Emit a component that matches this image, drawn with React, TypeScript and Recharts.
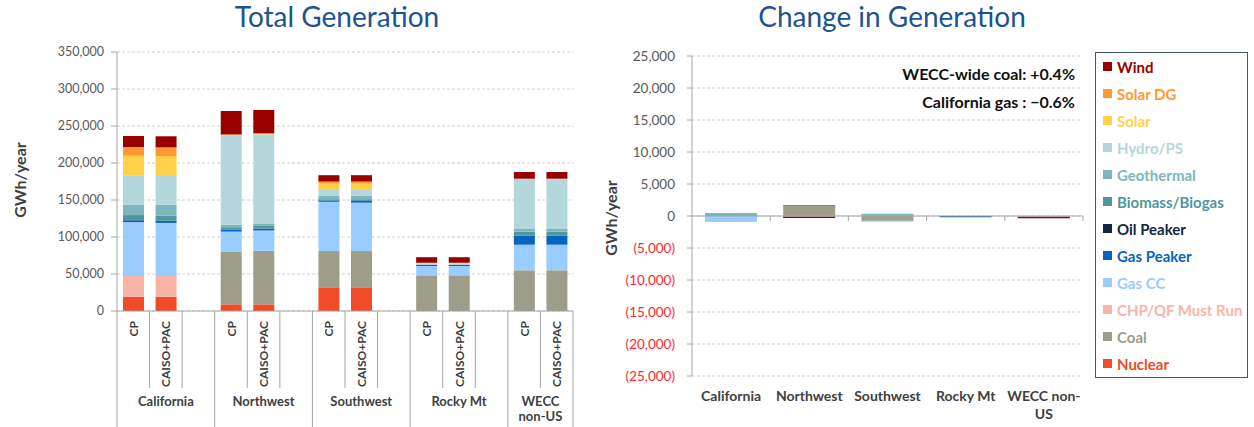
import React from 'react';
import { BarChart, Bar, XAxis, YAxis, CartesianGrid, Legend, ReferenceLine } from 'recharts';

// ---------- data ----------
const regions = ['California', 'Northwest', 'Southwest', 'Rocky Mt', 'WECC non-US'];
const scenarios = ['CP', 'CAISO+PAC'];

// Total generation (GWh/year), order: California CP, California CAISO+PAC, Northwest CP, ...
const totNuclear = [19000, 19000, 9000, 9000, 32000, 32000, 0, 0, 0, 0];
const totCoal = [0, 0, 70800, 72400, 49000, 49000, 48200, 48200, 55000, 55000];
const totChp = [28400, 28400, 0, 0, 0, 0, 0, 0, 0, 0];
const totGasCC = [72600, 71650, 27500, 27400, 66600, 65400, 12600, 12600, 34600, 34600];
const totGasPeaker = [2500, 2600, 2300, 2300, 1800, 3000, 1400, 1400, 11800, 11800];
const totOilPeaker = [300, 300, 100, 100, 100, 100, 100, 100, 400, 400];
const totBiomass = [6800, 6800, 3500, 3600, 1500, 1500, 300, 300, 5400, 5400];
const totGeothermal = [14400, 14850, 3600, 3600, 5000, 5000, 300, 300, 4400, 4400];
const totHydro = [38800, 38800, 120300, 120300, 8600, 8600, 1500, 1500, 67200, 67200];
const totSolar = [27000, 27000, 500, 500, 7600, 7600, 600, 600, 0, 0];
const totSolarDG = [11700, 11700, 1000, 1000, 2700, 2700, 200, 200, 0, 0];
const totWind = [15000, 15000, 31700, 31400, 8600, 8600, 7500, 7500, 9000, 9000];

// Change in generation (GWh/year), one value per region
const chgNuclear = [0, 0, 0, 0, 0];
const chgCoal = [0, 1550, -750, 0, 0];
const chgChp = [0, 0, 0, 0, 0];
const chgGasCC = [-950, -80, -150, 0, -100];
const chgGasPeaker = [0, 0, 0, -200, 0];
const chgOilPeaker = [0, 0, 0, 0, 0];
const chgBiomass = [100, 150, 0, 0, 0];
const chgGeothermal = [350, 0, 350, 0, 0];
const chgHydro = [0, 0, 0, 0, 0];
const chgSolar = [0, 0, 0, 0, 0];
const chgSolarDG = [0, 0, 0, 0, 0];
const chgWind = [0, -250, 0, 0, -250];

const totalTicks = [0, 50000, 100000, 150000, 200000, 250000, 300000, 350000];
const changeTicks = [-25000, -20000, -15000, -10000, -5000, 0, 5000, 10000, 15000, 20000, 25000];

// ---------- series (bottom to top) ----------
const series = [
  { key: 'nuclear', name: 'Nuclear', color: '#EE4B26', total: totNuclear, change: chgNuclear },
  { key: 'coal', name: 'Coal', color: '#9D9D89', total: totCoal, change: chgCoal },
  { key: 'chp', name: 'CHP/QF Must Run', color: '#F9B4A7', total: totChp, change: chgChp },
  { key: 'gascc', name: 'Gas CC', color: '#99CCFF', total: totGasCC, change: chgGasCC },
  { key: 'gaspk', name: 'Gas Peaker', color: '#0563C1', total: totGasPeaker, change: chgGasPeaker },
  { key: 'oilpk', name: 'Oil Peaker', color: '#0E2841', total: totOilPeaker, change: chgOilPeaker },
  { key: 'biomass', name: 'Biomass/Biogas', color: '#4E979C', total: totBiomass, change: chgBiomass },
  { key: 'geo', name: 'Geothermal', color: '#7DB6BF', total: totGeothermal, change: chgGeothermal },
  { key: 'hydro', name: 'Hydro/PS', color: '#B4D7DB', total: totHydro, change: chgHydro },
  { key: 'solar', name: 'Solar', color: '#FFD147', total: totSolar, change: chgSolar },
  { key: 'solardg', name: 'Solar DG', color: '#FF9933', total: totSolarDG, change: chgSolarDG },
  { key: 'wind', name: 'Wind', color: '#990000', total: totWind, change: chgWind },
];

type Row = { [k: string]: any };

const totalRows: Row[] = [];
regions.forEach((region, r) => {
  scenarios.forEach((sc, s) => {
    const idx = r * scenarios.length + s;
    const row: Row = { slot: `${r}-${s}`, label: sc, region };
    series.forEach((d) => {
      row[d.key] = d.total[idx];
    });
    totalRows.push(row);
  });
  if (r < regions.length - 1) totalRows.push({ slot: `${r}-gap`, label: '', region });
});

const changeRows: Row[] = regions.map((region, r) => {
  const row: Row = { region };
  series.forEach((d) => {
    row[d.key] = d.change[r];
  });
  return row;
});

// ---------- layout / style ----------
const FONT = 'Lato, "Open Sans", sans-serif';
const TITLE_COLOR = '#1E5391';
const AXIS_COLOR = '#A6A6A6';
const GRID_COLOR = '#D0D0D0';
const TEXT_GRAY = '#595959';
const LABEL_GRAY = '#404040';

const L_W = 600;
const L_H = 427;
const L_TOP = 52;
const L_LEFT = 117;
const L_RIGHT = 27;
const L_BOTTOM_Y = 311;
const L_PLOT_W = L_W - L_LEFT - L_RIGHT;
const SLOT_W = L_PLOT_W / totalRows.length;

const R_X = 600;
const R_W = 654;
const R_H = 427;
const R_TOP = 56;
const R_LEFT = 92;
const R_RIGHT = 171;
const R_BOTTOM_Y = 376;
const R_PLOT_W = R_W - R_LEFT - R_RIGHT;
const R_BAND = R_PLOT_W / regions.length;
const R_ZERO_Y = R_TOP + (R_BOTTOM_Y - R_TOP) / 2;

const fmt = (v: number) => v.toLocaleString('en-US');

const TotalYTick = (props: any) => {
  const { x, y, payload } = props;
  return (
    <text x={x} y={y} dy={4} textAnchor="end" fontFamily={FONT} fontSize={12.5} fill={TEXT_GRAY}>
      {fmt(payload.value)}
    </text>
  );
};

const TotalXTick = (props: any) => {
  const { x, y, payload } = props;
  const i = totalRows.findIndex((r) => r.slot === payload.value);
  const row = totalRows[i];
  if (!row) return null;
  const lx = x - SLOT_W / 2;
  const groupStart = i % 3 === 0;
  const last = i === totalRows.length - 1;
  const groupSlots = Math.min(3, totalRows.length - i);
  const gx = lx + (groupSlots === 3 ? 3 : 2) * SLOT_W / 2;
  const words = row.region === 'WECC non-US' ? ['WECC', 'non-US'] : [row.region];
  return (
    <g>
      <line x1={lx} y1={y} x2={lx} y2={groupStart ? 427 : 388} stroke={AXIS_COLOR} strokeWidth={1} />
      {last && <line x1={x + SLOT_W / 2} y1={y} x2={x + SLOT_W / 2} y2={427} stroke={AXIS_COLOR} strokeWidth={1} />}
      {row.label && (
        <text
          transform={`translate(${x},${y + 10}) rotate(-90)`}
          textAnchor="end"
          dominantBaseline="central"
          fontFamily={FONT}
          fontWeight={700}
          fontSize={12}
          fill={LABEL_GRAY}
        >
          {row.label}
        </text>
      )}
      {groupStart && (
        <text x={gx} y={y + 95} textAnchor="middle" fontFamily={FONT} fontWeight={700} fontSize={13} fill={LABEL_GRAY}>
          {words.map((w, k) => (
            <tspan key={k} x={gx} dy={k === 0 ? 0 : 15}>
              {w}
            </tspan>
          ))}
        </text>
      )}
    </g>
  );
};

const ChangeYTick = (props: any) => {
  const { x, y, payload } = props;
  const v = payload.value as number;
  const txt = v < 0 ? `(${fmt(-v)})` : fmt(v);
  return (
    <text x={x} y={y} dy={4.5} textAnchor="end" fontFamily={FONT} fontSize={13.5} fill={v < 0 ? '#FF2B2B' : TEXT_GRAY}>
      {txt}
    </text>
  );
};

const ChangeXTick = (props: any) => {
  const { x, y, payload } = props;
  const name = payload.value as string;
  const lines = name === 'WECC non-US' ? ['WECC non-', 'US'] : [name];
  const rx = x + R_BAND / 2;
  return (
    <g>
      <line x1={rx} y1={R_ZERO_Y} x2={rx} y2={R_ZERO_Y + 5} stroke={AXIS_COLOR} strokeWidth={1} />
      <text x={x} y={y + 25} textAnchor="middle" fontFamily={FONT} fontWeight={700} fontSize={14} fill={LABEL_GRAY}>
        {lines.map((l, k) => (
          <tspan key={k} x={x} dy={k === 0 ? 0 : 18}>
            {l}
          </tspan>
        ))}
      </text>
    </g>
  );
};

const LegendBox = () => (
  <div
    style={{
      width: 151,
      height: 324,
      border: '1px solid #44546A',
      background: '#fff',
      fontFamily: FONT,
    }}
  >
    {[...series].reverse().map((s) => (
      <div key={s.key} style={{ height: 27, display: 'flex', alignItems: 'center' }}>
        <span style={{ width: 9, height: 9, background: s.color, marginLeft: 7, marginRight: 5, display: 'inline-block' }} />
        <span style={{ color: s.color, fontWeight: 700, fontSize: 15, whiteSpace: 'nowrap' }}>{s.name}</span>
      </div>
    ))}
  </div>
);

export default function App() {
  return (
    <div style={{ position: 'absolute', left: 0, top: 0, width: 1254, height: 427, background: '#fff', overflow: 'hidden' }}>
      <div style={{ position: 'absolute', left: 0, top: 0 }}>
        <BarChart
          width={L_W}
          height={L_H}
          data={totalRows}
          margin={{ top: L_TOP, right: L_RIGHT, bottom: 0, left: 0 }}
          barSize={21}
        >
          <CartesianGrid vertical={false} stroke={GRID_COLOR} strokeDasharray="3 2" />
          <XAxis
            dataKey="slot"
            interval={0}
            height={L_H - L_BOTTOM_Y}
            tickLine={false}
            tickSize={0}
            tickMargin={0}
            stroke={AXIS_COLOR}
            tick={<TotalXTick />}
          />
          <YAxis
            width={L_LEFT}
            domain={[0, 350000]}
            ticks={totalTicks}
            stroke={AXIS_COLOR}
            tickSize={6}
            tickMargin={7}
            tick={<TotalYTick />}
            interval={0}
          />
          {series.map((s) => (
            <Bar key={s.key} dataKey={s.key} name={s.name} stackId="a" fill={s.color} isAnimationActive={false} />
          ))}
          <text x={337} y={27} textAnchor="middle" fontFamily={FONT} fontSize={28} fill={TITLE_COLOR}>
            Total Generation
          </text>
          <text
            transform="translate(19,180) rotate(-90)"
            textAnchor="middle"
            dominantBaseline="central"
            fontFamily={FONT}
            fontWeight={700}
            fontSize={16}
            fill={LABEL_GRAY}
          >
            GWh/year
          </text>
        </BarChart>
      </div>
      <div style={{ position: 'absolute', left: R_X, top: 0 }}>
        <BarChart
          width={R_W}
          height={R_H}
          data={changeRows}
          stackOffset="sign"
          margin={{ top: R_TOP, right: R_RIGHT, bottom: 0, left: 0 }}
          barSize={52}
        >
          <CartesianGrid vertical={false} stroke={GRID_COLOR} strokeDasharray="3 2" />
          <XAxis
            dataKey="region"
            interval={0}
            height={R_H - R_BOTTOM_Y}
            axisLine={false}
            tickLine={false}
            tickSize={0}
            tickMargin={0}
            tick={<ChangeXTick />}
          />
          <YAxis
            width={R_LEFT}
            domain={[-25000, 25000]}
            ticks={changeTicks}
            stroke={AXIS_COLOR}
            tickSize={5}
            tickMargin={12}
            tick={<ChangeYTick />}
            interval={0}
          />
          <ReferenceLine y={0} stroke={AXIS_COLOR} strokeWidth={1} />
          {series.map((s) => (
            <Bar key={s.key} dataKey={s.key} name={s.name} stackId="c" fill={s.color} isAnimationActive={false} />
          ))}
          <Legend
            layout="vertical"
            align="center"
            verticalAlign="middle"
            content={<LegendBox />}
            wrapperStyle={{ left: 495, top: 52, width: 153, height: 326 }}
          />
          <text x={292} y={27} textAnchor="middle" fontFamily={FONT} fontSize={28} fill={TITLE_COLOR}>
            Change in Generation
          </text>
          <text
            transform="translate(10,218) rotate(-90)"
            textAnchor="middle"
            dominantBaseline="central"
            fontFamily={FONT}
            fontWeight={700}
            fontSize={16}
            fill={LABEL_GRAY}
          >
            GWh/year
          </text>
          <text x={475} y={80} textAnchor="end" fontFamily={FONT} fontWeight={700} fontSize={16} fill="#111">
            WECC-wide coal: +0.4%
          </text>
          <text x={475} y={108} textAnchor="end" fontFamily={FONT} fontWeight={700} fontSize={16} fill="#111">
            California gas : −0.6%
          </text>
        </BarChart>
      </div>
    </div>
  );
}
